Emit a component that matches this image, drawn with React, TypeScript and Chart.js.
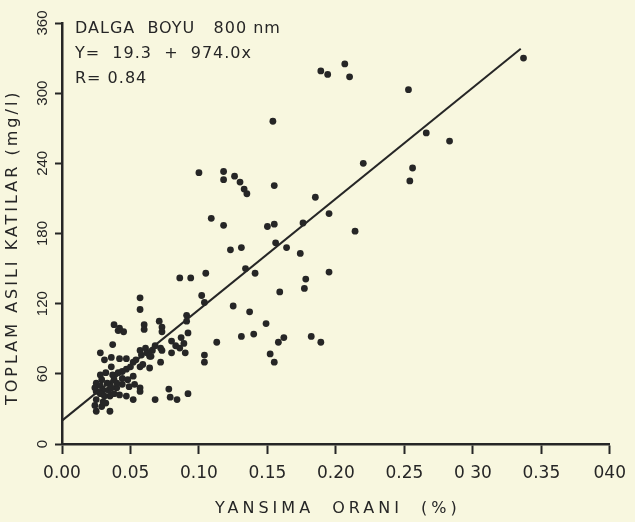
import React, { useEffect, useRef } from "react";
import { Chart, registerables } from "chart.js";
Chart.register(...registerables);

// Reflectance ratio (%) of each sample
const reflectance = [
  0.337, 0.189, 0.194, 0.2065, 0.21, 0.253, 0.266, 0.283, 0.22, 0.256, 0.254, 0.185, 0.195, 0.176, 0.214, 0.174,
  0.154, 0.1, 0.118, 0.118, 0.126, 0.13, 0.133, 0.135, 0.155, 0.109, 0.118, 0.15, 0.155, 0.156, 0.164, 0.123,
  0.131, 0.134, 0.141, 0.086, 0.094, 0.105, 0.178, 0.177, 0.159, 0.195,
  0.102, 0.104, 0.125, 0.137, 0.149, 0.131, 0.14, 0.113, 0.158, 0.162, 0.152, 0.155, 0.104, 0.104, 0.182, 0.189,
  0.091, 0.091, 0.071, 0.073, 0.073, 0.092, 0.087, 0.08, 0.089, 0.073, 0.083, 0.08, 0.09, 0.072, 0.064, 0.064,
  0.078, 0.079, 0.084, 0.092, 0.068, 0.057, 0.057, 0.041, 0.038, 0.045, 0.042, 0.06, 0.06, 0.037, 0.028, 0.036,
  0.042, 0.047, 0.057, 0.061, 0.054, 0.065, 0.072, 0.086, 0.057, 0.059,
  0.052, 0.048, 0.053, 0.057, 0.057, 0.052, 0.047, 0.042, 0.035, 0.028, 0.025, 0.025, 0.025, 0.025, 0.029, 0.035,
  0.032, 0.03, 0.035, 0.04, 0.032, 0.036, 0.031, 0.038, 0.044, 0.028, 0.024, 0.037, 0.041, 0.044, 0.049, 0.03,
  0.024, 0.038, 0.029, 0.034, 0.028, 0.031, 0.033, 0.036, 0.04, 0.044, 0.047, 0.05, 0.052, 0.058, 0.062, 0.066,
  0.068,
];
// Total suspended solids (mg/l) of each sample
const solids = [
  330, 319, 316, 325, 314, 303, 266, 259, 240, 236, 225, 211, 197, 189, 182, 163,
  276, 232, 233, 226, 229, 224, 218, 214, 221, 193, 187, 186, 188, 172, 168, 166,
  168, 150, 146, 142, 142, 146, 141, 133, 130, 147,
  127, 121, 118, 113, 103, 92, 94, 87, 87, 91, 77, 70, 76, 70, 92, 87,
  110, 105, 105, 100, 96, 95, 91, 88, 86, 80, 84, 78, 78, 70, 75, 65,
  47, 40, 38, 43, 38, 125, 115, 97, 102, 96, 99, 102, 98, 85, 78, 74,
  73, 73, 80, 82, 72, 75, 82, 82, 66, 68,
  58, 55, 51, 48, 45, 38, 41, 42, 41, 59, 52, 45, 38, 28, 32, 28,
  35, 46, 51, 48, 61, 66, 72, 55, 51, 43, 48, 59, 61, 56, 49, 36,
  33, 43, 55, 46, 50, 41, 52, 48, 52, 62, 64, 66, 70, 76, 78, 80,
  84,
];
// Regression line end points as drawn
const fitX = [0, 0.335];
const fitY = [20, 338];

const xTickLabels = ["0.00", "0.05", "0.10", "0.15", "0.20", "0.25", "0 30", "0.35", "040"];
const yTickLabels = ["0", "60", "120", "180", "240", "300", "360"];
const annotation = ["DALGA  BOYU   800 nm", "Y=  19.3  +  974.0x", "R= 0.84"];
const xTitle = "YANSIMA  ORANI  (%)";
const yTitle = "TOPLAM ASILI KATILAR (mg/l)";

const BG = "#f8f7df";
const INK = "#262626";

const paperPlugin = {
  id: "paper",
  beforeDraw(chart: any) {
    const ctx = chart.ctx;
    ctx.save();
    ctx.fillStyle = BG;
    ctx.fillRect(0, 0, chart.width, chart.height);
    ctx.restore();
  },
  afterDraw(chart: any) {
    const { ctx, chartArea: a } = chart;
    ctx.save();
    ctx.fillStyle = INK;
    ctx.font = '16px "DejaVu Sans"';
    (ctx as any).letterSpacing = "1px";
    ctx.textAlign = "left";
    ctx.textBaseline = "alphabetic";
    annotation.forEach((t, i) => ctx.fillText(t, a.left + 13, a.top + 10 + i * 25));

    (ctx as any).letterSpacing = "4px";
    ctx.textAlign = "left";
    ctx.textBaseline = "middle";
    ctx.fillText(xTitle, a.left + 153, 509);
    (ctx as any).letterSpacing = "3px";
    ctx.translate(13, a.bottom - 39);
    ctx.rotate(-Math.PI / 2);
    ctx.fillText(yTitle, 0, 0);
    ctx.restore();
  },
};

export default function App() {
  const ref = useRef<HTMLCanvasElement>(null);
  useEffect(() => {
    document.body.style.margin = "0";
    document.body.style.background = BG;
    const points = reflectance.map((x, i) => ({ x, y: solids[i] }));
    const fit = fitX.map((x, i) => ({ x, y: fitY[i] }));
    const chart = new Chart(ref.current!, {
      type: "scatter",
      data: {
        datasets: [
          {
            type: "line",
            data: fit,
            borderColor: INK,
            borderWidth: 2,
            pointRadius: 0,
            fill: false,
          } as any,
          {
            data: points,
            backgroundColor: INK,
            borderColor: INK,
            borderWidth: 0,
            pointRadius: 3.4,
          },
        ],
      },
      options: {
        animation: false,
        responsive: false,
        layout: { padding: { top: 23, right: 21, left: 0, bottom: 0 } },
        plugins: { legend: { display: false }, tooltip: { enabled: false } },
        scales: {
          x: {
            type: "linear",
            min: 0,
            max: 0.4,
            afterFit: (s: any) => {
              s.height = 78;
            },
            border: { display: true, color: INK, width: 2.5 },
            grid: { drawOnChartArea: false, drawTicks: true, tickLength: 10, tickWidth: 2, tickColor: INK },
            ticks: {
              stepSize: 0.05,
              padding: 9,
              color: INK,
              font: { family: "DejaVu Sans", size: 17 },
              maxRotation: 0,
              minRotation: 0,
              autoSkip: false,
              callback: (_v: any, i: number) => xTickLabels[i],
            },
          },
          y: {
            type: "linear",
            min: 0,
            max: 360,
            afterFit: (s: any) => {
              s.width = 62;
            },
            border: { display: true, color: INK, width: 2.5 },
            grid: { drawOnChartArea: false, drawTicks: true, tickLength: 7, tickWidth: 2, tickColor: INK },
            ticks: {
              stepSize: 60,
              padding: 0,
              color: INK,
              crossAlign: "center",
              minRotation: 90,
              maxRotation: 90,
              autoSkip: false,
              font: { family: "Liberation Sans", size: 15 },
              callback: (_v: any, i: number) => yTickLabels[i],
            },
          },
        },
      },
      plugins: [paperPlugin],
    });
    return () => chart.destroy();
  }, []);
  return (
    <div style={{ width: 635, height: 522, background: BG }}>
      <canvas ref={ref} width={635} height={522} style={{ display: "block" }} />
    </div>
  );
}
